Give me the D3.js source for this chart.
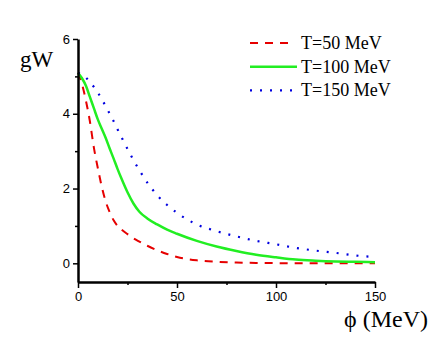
<!DOCTYPE html>
<html>
<head>
<meta charset="utf-8">
<script src="https://cdn.jsdelivr.net/npm/d3@7"></script>
<style>
  body { margin: 0; background: #fff; }
  .tick text { font-family: "Liberation Sans", Arial, sans-serif; font-size: 13px; fill: #000; }
  .serif { font-family: "Liberation Serif", "Times New Roman", serif; fill: #000; }
</style>
</head>
<body>
<svg id="chart" width="436" height="337"></svg>
<script>
// phi values (MeV)
const phi = [0, 2, 4, 6, 8, 10, 12, 14, 16, 18, 20, 22, 25, 28, 31, 35, 40, 45, 50, 60, 70, 80, 90, 100, 110, 120, 130, 140, 150];

// gW for each temperature
const t50 = [5.1, 4.8, 4.35, 3.8, 3.1, 2.55, 2.05, 1.65, 1.37, 1.15, 1.0, 0.9, 0.78, 0.67, 0.58, 0.47, 0.35, 0.25, 0.17, 0.08, 0.04, 0.02, 0.01, 0.005, 0, 0, 0, 0, 0];
const t100 = [5.1, 4.95, 4.75, 4.45, 4.15, 3.85, 3.6, 3.35, 3.07, 2.8, 2.52, 2.26, 1.9, 1.6, 1.38, 1.2, 1.04, 0.9, 0.79, 0.6, 0.45, 0.33, 0.23, 0.16, 0.1, 0.07, 0.05, 0.04, 0.03];
const t150 = [5.1, 5.05, 4.97, 4.85, 4.72, 4.57, 4.39, 4.2, 4.0, 3.8, 3.58, 3.37, 3.06, 2.76, 2.49, 2.16, 1.82, 1.56, 1.35, 1.04, 0.86, 0.72, 0.6, 0.51, 0.41, 0.34, 0.28, 0.21, 0.17];

const seriesNames = ['T=50 MeV', 'T=100 MeV', 'T=150 MeV'];
const xTicks = [0, 50, 100, 150];
const xMinor = [25, 75, 125];
const yTicks = [0, 2, 4, 6];
const yMinor = [1, 3, 5];

const series = [
  { name: seriesNames[0], values: t50, color: '#e60000', dash: '8,7', width: 2, legendEnd: 291 },
  { name: seriesNames[1], values: t100, color: '#22ee22', dash: null, width: 2.5, legendEnd: 297 },
  { name: seriesNames[2], values: t150, color: '#0000e0', dash: '2,8', width: 2.2, legendEnd: 293 },
];

const svg = d3.select('#chart');

const x = d3.scaleLinear().domain([0, 150]).range([78, 375]);
const y = d3.scaleLinear().domain([-0.5, 6]).range([282, 39]);

// Curves
const line = d3.line()
  .curve(d3.curveMonotoneX)
  .x((d, i) => x(phi[i]))
  .y(d => y(d));

series.forEach(s => {
  svg.append('path')
    .datum(s.values)
    .attr('fill', 'none')
    .attr('stroke', s.color)
    .attr('stroke-width', s.width)
    .attr('stroke-dasharray', s.dash)
    .attr('d', line);
});

// Axes
svg.append('g')
  .attr('transform', 'translate(0,282)')
  .call(d3.axisBottom(x).tickValues(xTicks).tickSize(6).tickSizeOuter(0).tickPadding(4));
svg.append('g')
  .attr('transform', 'translate(0,282)')
  .call(d3.axisBottom(x).tickValues(xMinor).tickSize(3).tickSizeOuter(0).tickFormat(''))
  .select('.domain').remove();

svg.append('g')
  .attr('transform', 'translate(78,0)')
  .call(d3.axisLeft(y).tickValues(yTicks).tickFormat(d3.format('d')).tickSize(5).tickSizeOuter(0).tickPadding(3));
svg.append('g')
  .attr('transform', 'translate(78,0)')
  .call(d3.axisLeft(y).tickValues(yMinor).tickSize(3).tickSizeOuter(0).tickFormat(''))
  .select('.domain').remove();

svg.selectAll('.domain').attr('stroke-width', 2.5).attr('stroke', '#000');
svg.selectAll('.tick line').attr('stroke-width', 1.5).attr('stroke', '#000');

// Axis titles
svg.append('text')
  .attr('class', 'serif')
  .attr('x', 20)
  .attr('y', 67)
  .attr('font-size', 23)
  .text('gW');

svg.append('text')
  .attr('class', 'serif')
  .attr('x', 428)
  .attr('y', 327)
  .attr('text-anchor', 'end')
  .attr('font-size', 24)
  .text('\u03D5 (MeV)');

// Legend
const legend = svg.append('g');
series.forEach((s, i) => {
  const ly = 43 + i * 23.7;
  legend.append('line')
    .attr('x1', 250).attr('x2', s.legendEnd)
    .attr('y1', ly).attr('y2', ly)
    .attr('stroke', s.color)
    .attr('stroke-width', s.width)
    .attr('stroke-dasharray', s.dash);
  legend.append('text')
    .attr('class', 'serif')
    .attr('x', 301)
    .attr('y', ly + 6)
    .attr('font-size', 18)
    .text(s.name);
});
</script>
</body>
</html>
